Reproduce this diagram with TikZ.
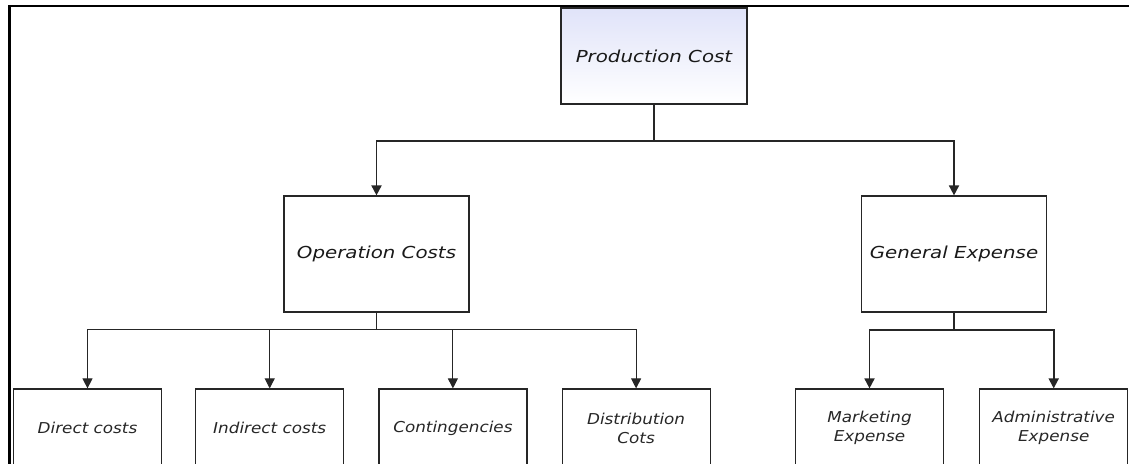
\documentclass[tikz,border=0pt]{standalone}
\usepackage{fontspec}
\setmainfont{DejaVu Sans}
\newfontfamily\bigfont{DejaVu Sans}[FakeStretch=1.2]
\newfontfamily\leaffont{DejaVu Sans}[FakeStretch=1.12]
\usetikzlibrary{positioning, calc}
\usetikzlibrary{arrows.meta}
\definecolor{boxtop}{RGB}{224,227,249}
\tikzstyle{topbox}=[rectangle,draw=black!85,line width=1.2pt,minimum width=186pt,
minimum height=96pt,font=\bigfont\itshape\fontsize{16.5}{19}\selectfont,text=black!90]
\tikzstyle{midbox}=[topbox,minimum width=185pt,minimum height=116pt]
\tikzstyle{leafbox}=[rectangle,draw=black!85,line width=1.2pt,minimum width=148pt,
minimum height=78pt,align=center,font=\leaffont\itshape\fontsize{15}{19}\selectfont,text=black!85]
\tikzstyle{thickpath} = [-{Triangle[length=10pt,width=10pt]},line width=1.8pt,draw=black!85]
\tikzstyle{thinpath} = [thickpath,line width=1pt]

\begin{document}
\begin{tikzpicture}[x=1pt,y=-1pt]
    \useasboundingbox (0,0) rectangle (1129,463);
    \clip (0,0) rectangle (1129,463);
    \draw[line width=2.5pt] (9.5,6) rectangle (1140,480);

    \node[topbox, top color=boxtop, bottom color=white] (pc) at (654,56) {Production Cost};
    \node[midbox] (oc) at (376.5,254) {Operation Costs};
    \node[midbox] (ge) at (954,254) {General Expense};

    \node[leafbox] (dc) at (87.5,428) {Direct costs};
    \node[leafbox, right=33pt of dc] (ic) {Indirect costs};
    \node[leafbox, right=34pt of ic] (ct) {Contingencies};
    \node[leafbox, right=34pt of ct] (dt) {Distribution\\Cots};
    \node[leafbox] (mk) at (869.5,428) {Marketing\\Expense};
    \node[leafbox, right=35pt of mk] (ad) {Administrative\\Expense};

    \coordinate (pcbar) at ($(pc.south)+(0,36)$);
    \coordinate (ocbar) at ($(oc.south)+(0,17)$);
    \coordinate (gebar) at ($(ge.south)+(0,17)$);

    \draw[thickpath] (pc.south) -- (pcbar) -| (oc.north);
    \draw[thickpath] (pcbar) -| (ge.north);
    \draw[thinpath] (oc.south) -- (ocbar) -| (dc.north);
    \draw[thinpath] (ocbar) -| (ic.north);
    \draw[thinpath] (ocbar) -| (ct.north);
    \draw[thinpath] (ocbar) -| (dt.north);
    \draw[thickpath] (ge.south) -- (gebar) -| (mk.north);
    \draw[thickpath] (gebar) -| (ad.north);
\end{tikzpicture}
\end{document}
